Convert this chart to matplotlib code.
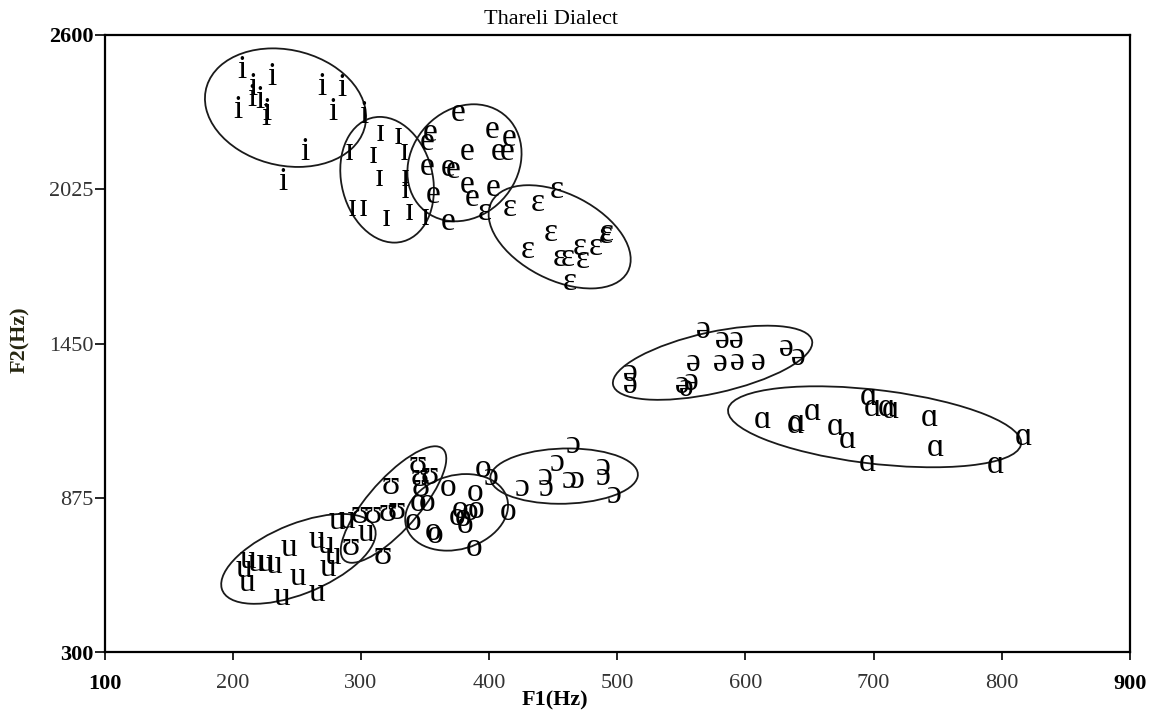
import numpy as np
import matplotlib
matplotlib.use("Agg")
import matplotlib.pyplot as plt
from matplotlib.patches import Ellipse

# ---------------- data (F1, F2 in Hz) ----------------
i_f1 = [207, 231, 216, 204, 215, 221, 227, 226, 270, 285, 278, 302, 256, 239]
i_f2 = [2470, 2443, 2406, 2320, 2365, 2358, 2313, 2294, 2406, 2402, 2313, 2302, 2164, 2052]

I_f1 = [315, 329, 310, 334, 314, 335, 335, 293, 302, 320, 338, 350, 291]
I_f2 = [2235, 2223, 2153, 2164, 2067, 2067, 2022, 1955, 1955, 1918, 1940, 1922, 2164]

e_f1 = [376, 354, 402, 416, 407, 414, 383, 352, 368, 372, 383, 356, 387, 403, 368, 352]
e_f2 = [2309, 2235, 2246, 2216, 2164, 2164, 2164, 2108, 2104, 2097, 2041, 2004, 1992, 2030, 1903, 2201]

E_f1 = [453, 438, 416, 397, 448, 492, 491, 483, 471, 473, 455, 461, 430, 463]
E_f2 = [2022, 1974, 1955, 1940, 1862, 1862, 1855, 1810, 1810, 1761, 1769, 1769, 1799, 1679]

schwa_f1 = [567, 582, 593, 632, 641, 559, 580, 594, 610, 510, 510, 551, 558, 554]
schwa_f2 = [1500, 1463, 1463, 1433, 1400, 1377, 1377, 1381, 1381, 1340, 1295, 1295, 1306, 1284]

a_f1 = [613, 639, 640, 652, 670, 680, 696, 699, 710, 713, 744, 748, 695, 795, 817]
a_f2 = [1165, 1146, 1154, 1195, 1139, 1090, 1250, 1209, 1209, 1202, 1172, 1060, 1004, 997, 1101]

u_f1 = [212, 218, 209, 226, 232, 211, 244, 251, 238, 266, 266, 273, 278, 274, 281, 289, 304]
u_f2 = [643, 632, 609, 632, 624, 557, 688, 580, 505, 520, 717, 699, 658, 613, 788, 792, 744]

U_f1 = [344, 346, 354, 323, 347, 309, 299, 321, 328, 292, 317]
U_f2 = [997, 949, 956, 919, 911, 811, 811, 818, 826, 691, 658]

o_f1 = [368, 345, 352, 341, 356, 358, 377, 389, 395, 375, 380, 385, 381, 390, 415, 388]
o_f2 = [911, 855, 855, 785, 747, 736, 829, 893, 982, 803, 799, 822, 773, 829, 822, 688]

O_f1 = [466, 453, 444, 445, 463, 469, 489, 489, 498, 426, 402]
O_f2 = [1072, 1005, 952, 911, 941, 941, 990, 952, 885, 911, 952]

vowel_symbols = ["i", "ɪ", "e", "ɛ", "ə", "ɑ", "u", "ʊ", "o", "ɔ"]
vowel_f1 = [i_f1, I_f1, e_f1, E_f1, schwa_f1, a_f1, u_f1, U_f1, o_f1, O_f1]
vowel_f2 = [i_f2, I_f2, e_f2, E_f2, schwa_f2, a_f2, u_f2, U_f2, o_f2, O_f2]

x_ticks = [100, 200, 300, 400, 500, 600, 700, 800, 900]
y_ticks = [300, 875, 1450, 2025, 2600]

# ---------------- figure ----------------
SERIF = ["Liberation Serif", "DejaVu Serif"]
plt.rcParams["font.family"] = SERIF

W, H = 1162, 715
fig = plt.figure(figsize=(W / 100, H / 100), dpi=100)
ax = fig.add_axes([104.5 / W, 1 - 652 / H, (1130 - 104.5) / W, (652 - 35) / H])
ax.set_xlim(100, 900)
ax.set_ylim(300, 2600)


def conf_ellipse(x, y, n_std=2.0):
    x = np.asarray(x, float)
    y = np.asarray(y, float)
    cov = np.cov(x, y)
    vals, vecs = np.linalg.eigh(cov)
    order = vals.argsort()[::-1]
    vals, vecs = vals[order], vecs[:, order]
    ang = np.degrees(np.arctan2(vecs[1, 0], vecs[0, 0]))
    w, h = 2 * n_std * np.sqrt(vals)
    return Ellipse((x.mean(), y.mean()), w, h, angle=ang, fill=False,
                   edgecolor="#1a1a1a", linewidth=1.3, zorder=2)


for sym, xs, ys in zip(vowel_symbols, vowel_f1, vowel_f2):
    ax.add_patch(conf_ellipse(xs, ys, 2.0))
    for x, y in zip(xs, ys):
        ax.text(x, y, sym, ha="center", va="center", fontsize=24,
                family=SERIF, color="black", zorder=3)

# ticks
ax.set_xticks(x_ticks)
ax.set_yticks(y_ticks)
ax.set_xticklabels([str(v) for v in x_ticks])
ax.set_yticklabels([str(v) for v in y_ticks])
ax.tick_params(axis="x", direction="out", length=6, width=1.2, pad=10,
               labelsize=16, colors="black")
ax.tick_params(axis="y", direction="out", length=7, width=1.2, pad=1,
               labelsize=16, colors="black")
for lab in ax.get_xticklabels():
    if lab.get_text() in ("100", "900"):
        lab.set_fontweight("bold")
    else:
        lab.set_color("#333333")
for lab in ax.get_yticklabels():
    if lab.get_text() in ("300", "2600"):
        lab.set_fontweight("bold")
    else:
        lab.set_color("#333333")

for s in ax.spines.values():
    s.set_linewidth(1.6)
    s.set_color("black")

fig.text(551 / W, 1 - 20 / H, "Thareli Dialect", ha="center", va="center",
         fontsize=16, family=SERIF)
fig.text(555 / W, 1 - 700 / H, "F1(Hz)", ha="center", va="center",
         fontsize=16, fontweight="bold", family=SERIF)
fig.text(20 / W, 1 - 340 / H, "F2(Hz)", ha="center", va="center",
         rotation=90, fontsize=16, fontweight="bold", family=SERIF,
         color="#262610")

fig.savefig("out.png", dpi=100)
